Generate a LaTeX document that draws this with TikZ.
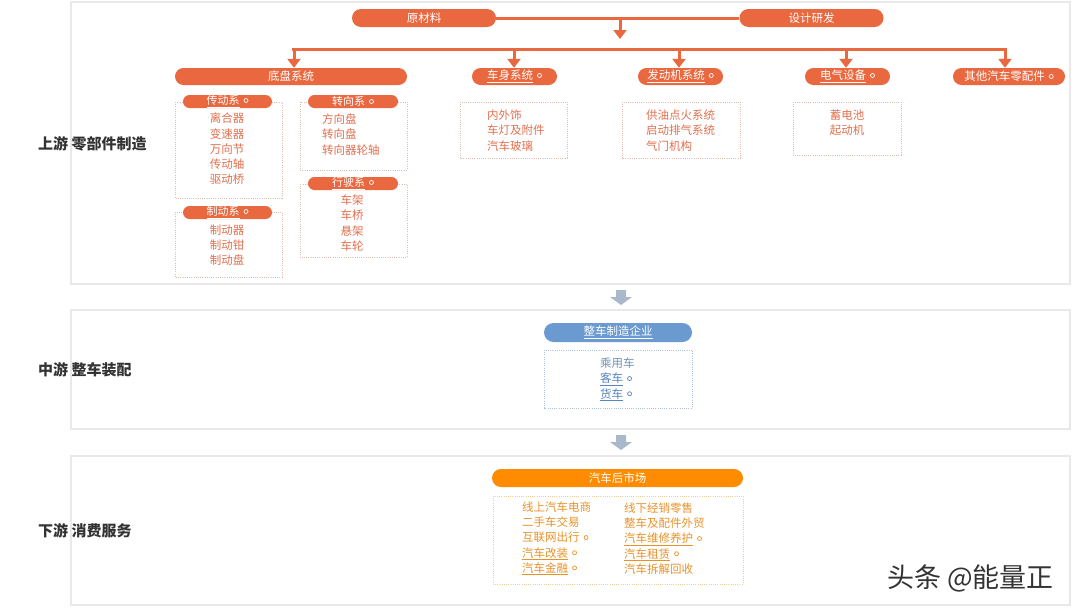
\documentclass[tikz,border=0pt]{standalone}
\usepackage{fontspec}
\setmainfont{Noto Sans CJK SC}
\usetikzlibrary{arrows.meta}
\definecolor{ora}{HTML}{E96840}
\definecolor{itc}{HTML}{E2704F}
\definecolor{dbc}{HTML}{E2BDB0}
\definecolor{pnl}{HTML}{E9E9E9}
\definecolor{lbc}{HTML}{333333}
\definecolor{blu}{HTML}{6A9AD0}
\definecolor{bluetext}{HTML}{5584C0}
\definecolor{bluegray}{HTML}{7391B5}
\definecolor{bluebox}{HTML}{A9C3E3}
\definecolor{org}{HTML}{FF8C00}
\definecolor{orgtext}{HTML}{E8932A}
\definecolor{orgbox}{HTML}{F6CC95}
\definecolor{garr}{HTML}{A9B9CB}
\newcommand{\oc}{\hspace{4pt}\tikz[x=1cm,y=1cm,baseline=-0.38em]\draw[line width=0.7pt] (0,0) circle (2pt);}
\begin{document}
\begin{tikzpicture}[x=1pt,y=-1pt,
  pill/.style={fill=#1,text=white,rounded corners=8.5pt,minimum height=17pt,inner sep=0pt,font=\fontsize{11.5}{13}\selectfont},
  pill/.default=ora,
  spill/.style={fill=ora,text=white,rounded corners=6.5pt,minimum height=13pt,inner sep=0pt,font=\fontsize{11}{12}\selectfont},
  itemtext/.style={text=itc,font=\fontsize{11.5}{15.2}\selectfont,inner sep=0pt},
  dbox/.style={draw=#1,line width=0.7pt,dash pattern=on 1pt off 1.2pt},
  dbox/.default=dbc,
  panel/.style={draw=pnl,line width=1.2pt},
  conn/.style={draw=ora,line width=3pt,-{Triangle[width=13pt,length=9pt]}},
  busline/.style={draw=ora,line width=3pt},
  lbl/.style={text=lbc,font=\fontsize{15}{17}\selectfont\bfseries,anchor=west,inner sep=0pt},
]
\useasboundingbox (0,0) rectangle (1077,611);
\fill[white] (0,0) rectangle (1077,611);

% panels
\draw[panel] (71,2) rectangle (1070,284);
\draw[panel] (71,310) rectangle (1070,429);
\draw[panel] (71,456) rectangle (1070,605);

% left labels
\node[lbl] (l1) at (38,144) {上游 零部件制造};
\node[lbl] (l2) at (38,370) {中游 整车装配};
\node[lbl] (l3) at (38,531) {下游 消费服务};

% top pills
\node[pill, minimum width=144pt, minimum height=18pt, rounded corners=9pt] (rm) at (424,18) {原材料};
\node[pill, minimum width=144pt, minimum height=18pt, rounded corners=9pt] (sj) at (811.5,18) {设计研发};
\coordinate (mid) at (620,18);
\coordinate (midend) at (620,39);
\coordinate (bl) at (292,49);
\coordinate (br) at (1006.5,49);
\coordinate (b1) at (294,49);
\coordinate (b2) at (514,49);
\coordinate (b3) at (679,49);
\coordinate (b4) at (846,49);
\coordinate (b5) at (1005,49);

% level 2 pills
\node[pill, minimum width=232pt] (dp) at (291,76.5) {底盘系统};
\node[pill, minimum width=85pt] (cs) at (514.5,76.5) {\underline{车身系统}\oc};
\node[pill, minimum width=85pt] (fd) at (680.5,76.5) {\underline{发动机系统}\oc};
\node[pill, minimum width=85pt] (dq) at (847.5,76.5) {\underline{电气设备}\oc};
\node[pill, minimum width=112pt] (qt) at (1009,76.5) {其他汽车零配件\oc};

% connectors
\draw[busline] (rm.east) -- (sj.west);
\draw[conn] (mid) -- (midend);
\draw[busline] (bl) -- (br);
\draw[conn] (b1) -- (b1 |- dp.north);
\draw[conn] (b2) -- (b2 |- cs.north);
\draw[conn] (b3) -- (b3 |- fd.north);
\draw[conn] (b4) -- (b4 |- dq.north);
\draw[conn] (b5) -- (b5 |- qt.north);

% chassis sub boxes
\draw[dbox] (175,102) rectangle (282,198);
\draw[dbox] (300,102) rectangle (407,170);
\draw[dbox] (300,184) rectangle (407,257);
\draw[dbox] (175,212) rectangle (282,277);
\node[spill, minimum width=89pt] (cd) at (227.5,101.5) {\underline{传动系}\oc};
\node[spill, minimum width=90pt] (zx) at (353,101.5) {转向系\oc};
\node[spill, minimum width=90pt] (xs) at (353,183.5) {\underline{行驶系}\oc};
\node[spill, minimum width=89pt] (zd) at (227.5,212.5) {\underline{制动系}\oc};

\node[itemtext, align=center] (cdl) at (227,149) {离合器\\变速器\\万向节\\传动轴\\驱动桥};
\node[itemtext, align=left, anchor=west] (zxl) at (322,134.5) {方向盘\\转向盘\\转向器轮轴};
\node[itemtext, align=center] (xsl) at (352,223) {车架\\车桥\\悬架\\车轮};
\node[itemtext, align=center] (zdl) at (227,245) {制动器\\制动钳\\制动盘};

% other sub boxes
\draw[dbox] (460,102) rectangle (567,158);
\draw[dbox] (622,102) rectangle (740,158);
\draw[dbox] (793,102) rectangle (901,155);
\node[itemtext, align=left, anchor=west] (csl) at (487,130.5) {内外饰\\车灯及附件\\汽车玻璃};
\node[itemtext, align=left, anchor=west] (fdl) at (646,130.5) {供油点火系统\\启动排气系统\\气门机构};
\node[itemtext, align=center] (dql) at (847,123) {蓄电池\\起动机};

% gray arrows
\fill[garr] (616,290) -- (626,290) -- (626,297) -- (632,297) -- (621,305) -- (610,297) -- (616,297) -- cycle;
\fill[garr] (616,435) -- (626,435) -- (626,442) -- (632,442) -- (621,450) -- (610,442) -- (616,442) -- cycle;

% middle
\node[pill=blu, minimum width=148pt, minimum height=19pt, rounded corners=9.5pt] (zz) at (618,332.5) {\underline{整车制造企业}};
\draw[dbox=bluebox] (544,350) rectangle (692,408);
\node[itemtext, anchor=west, align=left] (zzl) at (600,379.5) {\textcolor{bluegray}{乘用车}\\\textcolor{bluetext}{\underline{客车}\oc}\\\textcolor{bluetext}{\underline{货车}\oc}};

% bottom
\node[pill=org, minimum width=251pt, minimum height=18pt, rounded corners=9pt] (hs) at (617.5,478) {汽车后市场};
\draw[dbox=orgbox] (493,496) rectangle (743,584);
\node[itemtext, text=orgtext, anchor=west, align=left] (hs1) at (522,538.5) {线上汽车电商\\二手车交易\\互联网出行\oc\\\underline{汽车改装}\oc\\\underline{汽车金融}\oc};
\node[itemtext, text=orgtext, anchor=west, align=left] (hs2) at (624,538.5) {线下经销零售\\整车及配件外贸\\\underline{汽车维修养护}\oc\\\underline{汽车租赁}\oc\\汽车拆解回收};

% watermark
\node[text=lbc, font=\fontsize{27}{29}\selectfont, anchor=west, inner sep=0pt] (wm) at (887,578) {头条 @能量正};
\end{tikzpicture}
\end{document}
